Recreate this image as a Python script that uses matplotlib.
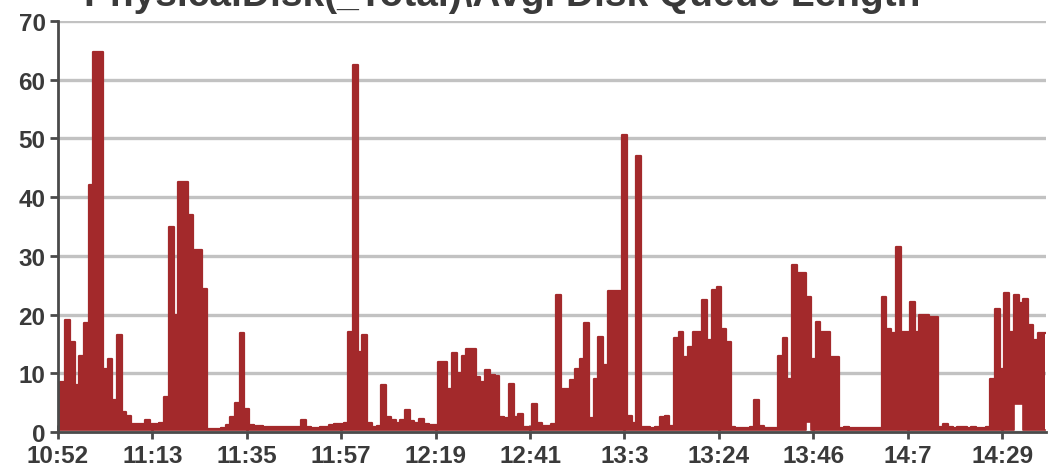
import matplotlib
matplotlib.use("Agg")
import matplotlib.pyplot as plt
import numpy as np

# counter values, one per sample (upper and lower edge of the dense trace)
peak = [
    7, 8.5, 19, 15.3, 8, 13, 18.6, 42, 64.7, 64.7, 10.8, 12.5, 5.5, 16.5, 3.4, 2.8, 1.4, 1.4, 1.4, 2,
    1.4, 1.4, 1.5, 6, 35, 20, 42.6, 42.6, 37, 31, 31, 24.4, 0.5, 0.5, 0.5, 0.6, 1.2, 2.5, 5, 16.8,
    4, 1.2, 1, 1, 0.9, 0.9, 0.8, 0.8, 0.8, 0.8, 0.8, 0.8, 2, 0.9, 0.7, 0.7, 0.9, 0.9, 1.2, 1.4,
    1.4, 1.6, 17, 62.5, 13.6, 16.5, 1.5, 0.8, 1, 8, 2.5, 2, 1.5, 2, 3.8, 1.8, 1.5, 2.2, 1.3, 1.2,
    1.2, 12, 12, 7.4, 13.4, 10, 13, 14.2, 14.2, 9.4, 8.5, 10.5, 9.7, 9.5, 2.5, 2.3, 8.2, 2.5, 3, 0.8,
    0.8, 4.8, 1.5, 1.1, 1.1, 1.4, 23.3, 7.4, 7.4, 8.8, 10.8, 12.5, 18.5, 2.3, 9, 16.2, 11.4, 24, 24, 24,
    50.6, 2.8, 1.5, 47, 0.8, 0.8, 0.7, 0.9, 2.5, 2.8, 1, 16, 17, 12.8, 14.5, 17, 17, 22.4, 15.6, 24.1,
    24.7, 17.6, 15.3, 0.8, 0.7, 0.7, 0.7, 0.8, 5.4, 1, 0.6, 0.6, 0.6, 13, 16, 9, 28.4, 27, 27, 23,
    12.5, 18.8, 17, 17, 12.8, 12.8, 0.6, 0.8, 0.6, 0.6, 0.6, 0.6, 0.6, 0.6, 0.6, 23, 17.6, 16.8, 31.5, 17,
    17, 22.2, 17, 19.9, 19.9, 19.6, 19.6, 0.8, 1.3, 0.8, 0.7, 0.8, 0.8, 0.7, 0.8, 0.7, 0.7, 0.8, 9, 21,
    10.8, 23.6, 17, 23.4, 21.9, 22.7, 18.2, 15.6, 16.8, 16.8,
]
low = [
    0.3, 0.3, 0.3, 0.3, 0.3, 0.3, 0.3, 0.3, 0.3, 0.3, 0.3, 0.3, 0.3, 0.3, 0.3, 0.3, 0.3, 0.3, 0.3, 0.3,
    0.3, 0.3, 0.3, 0.3, 0.3, 0.3, 0.3, 0.3, 0.3, 0.3, 0.3, 0.3, 0.3, 0.3, 0.3, 0.3, 0.3, 0.3, 0.3, 0.3,
    0.3, 0.3, 0.3, 0.3, 0.3, 0.3, 0.3, 0.3, 0.3, 0.3, 0.3, 0.3, 0.3, 0.3, 0.3, 0.3, 0.3, 0.3, 0.3, 0.3,
    0.3, 0.3, 0.3, 0.3, 0.3, 0.3, 0.3, 0.3, 0.3, 0.3, 0.3, 0.3, 0.3, 0.3, 0.3, 0.3, 0.3, 0.3, 0.3, 0.3,
    0.3, 0.3, 0.3, 0.3, 0.3, 0.3, 0.3, 0.3, 0.3, 0.3, 0.3, 0.3, 0.3, 0.3, 0.3, 0.3, 0.3, 0.3, 0.3, 0.3,
    0.3, 0.3, 0.3, 0.3, 0.3, 0.3, 0.3, 0.3, 0.3, 0.3, 0.3, 0.3, 0.3, 0.3, 0.3, 0.3, 0.3, 0.3, 0.3, 0.3,
    0.3, 0.3, 0.3, 0.3, 0.3, 0.3, 0.3, 0.3, 0.3, 0.3, 0.3, 0.3, 0.3, 0.3, 0.3, 0.3, 0.3, 0.3, 0.3, 0.3,
    0.3, 0.3, 0.3, 0.3, 0.3, 0.3, 0.3, 0.3, 0.3, 0.3, 0.3, 0.3, 0.3, 0.3, 0.3, 0.3, 0.3, 0.3, 0.3, 1.7,
    0.3, 0.3, 0.3, 0.3, 0.3, 0.3, 0.3, 0.3, 0.3, 0.3, 0.3, 0.3, 0.3, 0.3, 0.3, 0.3, 0.3, 0.3, 0.3, 0.3,
    0.3, 0.3, 0.3, 0.3, 0.3, 0.3, 0.3, 0.3, 0.3, 0.3, 0.3, 0.3, 0.3, 0.3, 0.3, 0.3, 0.3, 0.3, 0.3, 0.3,
    0.3, 0.3, 0.3, 4.8, 4.8, 0.3, 0.3, 0.3, 0.3, 0.3,
]
time_labels = ['10:52', '11:13', '11:35', '11:57', '12:19', '12:41',
               '13:3', '13:24', '13:46', '14:7', '14:29']
samples_per_label = 20
title = 'PhysicalDisk(_Total)\\Avg. Disk Queue Length'

red = '#a3292b'
x = np.arange(len(peak))

fig = plt.figure(figsize=(10.56, 4.77), dpi=100)
ax = fig.add_axes([58 / 1056, 1 - 433 / 477, 988 / 1056, 411 / 477])

ax.fill_between(x, low, peak, step='mid', color=red, lw=0, zorder=2)
ax.step(x, peak, where='mid', color=red, lw=1.6, zorder=2)
ax.step(x, low, where='mid', color=red, lw=1.2, zorder=2)

ax.set_xlim(0, 209.3)
ax.set_ylim(0, 70)
ax.set_yticks(range(0, 71, 10))
ax.set_xticks(np.arange(len(time_labels)) * samples_per_label)
ax.set_xticklabels(time_labels)

ax.set_axisbelow(True)
ax.yaxis.grid(True, color='#c2c2c2', lw=2.4)
for s in ['top', 'right']:
    ax.spines[s].set_visible(False)
for s in ['left', 'bottom']:
    ax.spines[s].set_color('#4a4a4a')
    ax.spines[s].set_linewidth(2)
    ax.spines[s].set_zorder(3)

ax.tick_params(axis='y', direction='out', length=6, width=2, color='#4a4a4a', pad=3)
ax.tick_params(axis='x', direction='inout', length=10, width=2, color='#4a4a4a', pad=4)
for lab in ax.get_xticklabels() + ax.get_yticklabels():
    lab.set_fontfamily('Liberation Sans')
    lab.set_fontweight('bold')
    lab.set_fontsize(17.5)
    lab.set_color('#3a3a3a')

fig.text(502 / 1056, 1 - 6 / 477, title, ha='center', va='baseline',
         fontsize=28, fontweight='bold', family='Liberation Sans', color='#3a3a3a')

fig.savefig('out.png', dpi=100)
